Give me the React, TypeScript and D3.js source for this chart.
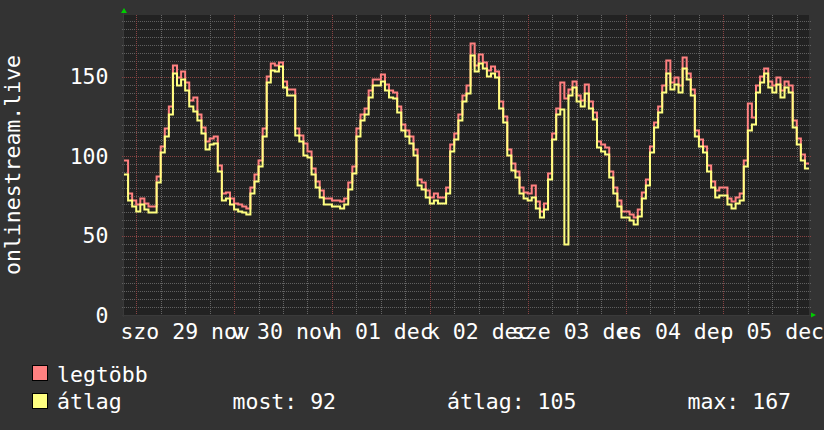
import React from "react";
import * as d3 from "d3";

// ---- data (hourly, starting 2025-11-28 21:00) ----
const avgValues = [
  88, 72, 68, 65, 69, 66, 64, 64, 83, 102, 112, 126, 152, 144, 148, 141, 131, 128, 122, 114, 104, 107, 108, 90,
  72, 73, 69, 66, 65, 64, 63, 76, 84, 93, 112, 146, 154, 153, 156, 143, 138, 138, 113, 109, 100, 99, 88, 80,
  74, 69, 69, 68, 68, 67, 69, 79, 89, 112, 122, 126, 137, 144, 144, 147, 141, 137, 136, 127, 116, 112, 108, 100,
  81, 79, 74, 70, 72, 70, 70, 76, 103, 110, 122, 134, 139, 163, 153, 158, 155, 150, 152, 149, 130, 121, 100, 91,
  86, 76, 73, 72, 74, 67, 61, 66, 85, 110, 126, 129, 44, 138, 143, 134, 131, 139, 130, 123, 105, 103, 101, 86,
  76, 68, 61, 61, 59, 57, 62, 73, 81, 102, 118, 127, 140, 152, 142, 145, 140, 155, 148, 138, 112, 106, 102, 90,
  80, 74, 75, 75, 69, 67, 70, 72, 93, 116, 120, 140, 146, 152, 143, 140, 145, 137, 143, 140, 118, 107, 97, 92,
];
const maxValues = [
  97, 76, 72, 69, 73, 70, 68, 68, 87, 106, 117, 131, 157, 149, 153, 146, 135, 137, 126, 118, 109, 111, 112, 94,
  76, 77, 73, 70, 69, 68, 67, 80, 88, 97, 117, 150, 158, 157, 159, 147, 142, 142, 117, 113, 108, 103, 92, 84,
  78, 73, 73, 72, 72, 71, 73, 83, 93, 117, 126, 130, 141, 148, 148, 151, 145, 141, 140, 131, 120, 116, 112, 104,
  85, 83, 78, 74, 76, 74, 74, 80, 107, 114, 126, 138, 144, 171, 157, 164, 159, 154, 156, 153, 134, 125, 104, 95,
  90, 80, 77, 76, 81, 71, 65, 70, 89, 114, 130, 146, 136, 142, 147, 138, 135, 145, 134, 127, 109, 107, 105, 90,
  80, 72, 65, 65, 63, 61, 66, 77, 85, 106, 121, 131, 144, 160, 146, 149, 144, 162, 152, 142, 116, 110, 106, 94,
  84, 78, 80, 80, 73, 71, 74, 76, 97, 133, 124, 144, 150, 155, 147, 144, 149, 141, 147, 144, 122, 111, 101, 95,
];
const dayLabels = ["szo 29 nov", "v 30 nov", "h 01 dec", "k 02 dec", "sze 03 dec", "cs 04 dec", "p 05 dec"];
const yTicks = [0, 50, 100, 150];
const axisTitle = "onlinestream.live";
const seriesNames = ["legtöbb", "átlag"];
const gprintTexts = ["most: 92", "átlag: 105", "max: 167"];

const START = Date.UTC(2025, 10, 28, 21);
const HOUR = 3600 * 1000;

const W = 824, H = 430;
const L = 124, R = 809, T = 15, B = 315;
const FONT = "'DejaVu Sans Mono', monospace";
const FS = 21.5;

export default function App() {
  const x = d3.scaleUtc().domain([new Date(START), new Date(START + avgValues.length * HOUR)]).range([L, R]);
  const y = d3.scaleLinear().domain([0, 189]).range([B, T]);

  const pts = (vals: number[]) => {
    const p = vals.map((v, i) => [START + i * HOUR, v] as [number, number]);
    p.push([START + vals.length * HOUR, vals[vals.length - 1]]);
    return p;
  };
  const line = d3
    .line<[number, number]>()
    .x((d) => x(new Date(d[0])))
    .y((d) => Math.round(y(d[1])) - 0.5)
    .curve(d3.curveStepAfter);

  const endDate = new Date(START + avgValues.length * HOUR);
  const minorV = d3.utcHour.every(6)!.range(new Date(START), endDate).filter((d) => d.getUTCHours() !== 0);
  const majorV = d3.utcDay.range(new Date(START), endDate);
  const minorH = d3.range(5, 189, 5).filter((v) => v % 50 !== 0);
  const majorH = [50, 100, 150];

  const px = (v: number) => Math.round(v) + 0.5;

  return (
    <svg width={W} height={H} style={{ display: "block", position: "absolute", left: 0, top: 0 }}>
      <rect x={0} y={0} width={W} height={H} fill="#333333" />
      <rect x={L} y={T} width={R - L} height={B - T} fill="#222222" />
      {/* minor grid */}
      {minorH.map((v) => (
        <line key={"mh" + v} x1={L - 2} x2={R + 2} y1={px(y(v))} y2={px(y(v))} stroke="#606060" strokeDasharray="1,1" />
      ))}
      {minorV.map((d, i) => (
        <line key={"mv" + i} x1={px(x(d))} x2={px(x(d))} y1={T} y2={B + 2} stroke="#666666" strokeDasharray="1,1" />
      ))}
      {/* major grid */}
      {majorH.map((v) => (
        <line key={"Mh" + v} x1={L - 2} x2={R + 2} y1={px(y(v))} y2={px(y(v))} stroke="#8a4444" strokeDasharray="1,1" />
      ))}
      {majorV.map((d, i) => (
        <line key={"Mv" + i} x1={px(x(d))} x2={px(x(d))} y1={T} y2={B + 2} stroke="#8a4444" strokeDasharray="1,1" />
      ))}
      {/* axis lines */}
      <line x1={L - 2} x2={R + 3} y1={B + 0.5} y2={B + 0.5} stroke="#3a3a3a" />
      <line x1={L - 0.5} x2={L - 0.5} y1={T - 2} y2={B + 2} stroke="#3a3a3a" />
      {/* arrows */}
      <polygon points={`${L - 3},13 ${L},8 ${L + 3},13`} fill="#00cc00" />
      <polygon points={`${R + 2},${B - 2.5} ${R + 7},${B} ${R + 2},${B + 2.5}`} fill="#00cc00" />
      {/* series */}
      <path d={line(pts(maxValues)) || ""} fill="none" stroke="#ff8080" strokeWidth={2} />
      <path d={line(pts(avgValues)) || ""} fill="none" stroke="#ffff80" strokeWidth={2} />
      {/* y labels */}
      {yTicks.map((v) => (
        <text key={"yl" + v} x={108.5} y={y(v) + 7.5} textAnchor="end" fontFamily={FONT} fontSize={FS} fill="#ffffff">
          {v}
        </text>
      ))}
      {/* x labels */}
      {dayLabels.map((s, i) => (
        <text
          key={"xl" + i}
          x={x(new Date(majorV[i].getTime() + 12 * HOUR))}
          y={338.5}
          textAnchor="middle"
          fontFamily={FONT}
          fontSize={FS}
          fill="#ffffff"
        >
          {s}
        </text>
      ))}
      {/* y title */}
      <text
        transform={`translate(19.5,${(T + B) / 2}) rotate(-90)`}
        textAnchor="middle"
        fontFamily={FONT}
        fontSize={FS}
        fill="#ffffff"
      >
        {axisTitle}
      </text>
      {/* legend */}
      <rect x={32.5} y={365.5} width={15} height={15} fill="#ff8080" stroke="#000" />
      <rect x={32.5} y={393.5} width={15} height={15} fill="#ffff80" stroke="#000" />
      <text x={57} y={381.5} fontFamily={FONT} fontSize={FS} fill="#ffffff">{seriesNames[0]}</text>
      <text x={57} y={409} fontFamily={FONT} fontSize={FS} fill="#ffffff">{seriesNames[1]}</text>
      <text x={232.5} y={409} fontFamily={FONT} fontSize={FS} fill="#ffffff">{gprintTexts[0]}</text>
      <text x={447} y={409} fontFamily={FONT} fontSize={FS} fill="#ffffff">{gprintTexts[1]}</text>
      <text x={687.5} y={409} fontFamily={FONT} fontSize={FS} fill="#ffffff">{gprintTexts[2]}</text>
    </svg>
  );
}
